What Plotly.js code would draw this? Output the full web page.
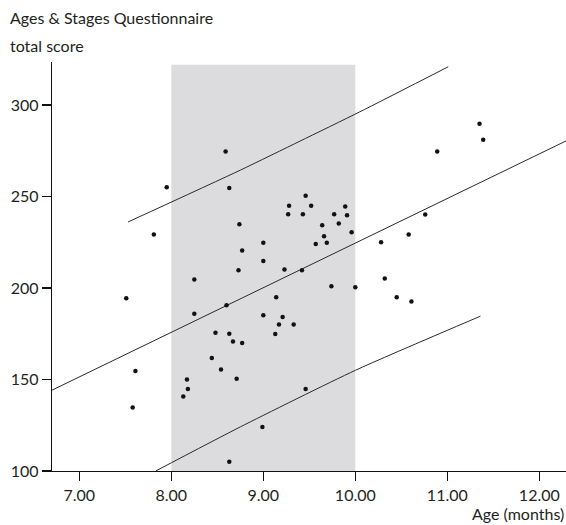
<!DOCTYPE html>
<html>
<head>
<meta charset="utf-8">
<script src="https://cdn.plot.ly/plotly-3.0.1.min.js"></script>
<style>html,body{margin:0;padding:0;background:#fff;}#chart{width:566px;height:525px;}</style>
</head>
<body>
<div id="chart"></div>
<script>
// Scatter data: age (months) and ASQ total score
const ageMonths = [7.51, 7.58, 7.61, 7.81, 7.95, 8.13, 8.17, 8.18, 8.25, 8.25,
  8.44, 8.48, 8.54, 8.59, 8.63, 8.60, 8.63, 8.67, 8.71, 8.74,
  8.73, 8.77, 8.77, 8.63, 9.00, 9.00, 8.99, 9.00, 9.14, 9.17,
  9.13, 9.21, 9.23, 9.28, 9.27, 9.33, 9.43, 9.46, 9.52, 9.42,
  9.57, 9.64, 9.66, 9.69, 9.74, 9.77, 9.82, 9.89, 9.91, 9.96,
  10.00, 9.46, 10.28, 10.32, 10.45, 10.58, 10.61, 10.76, 10.89, 11.35, 11.39];
const asqScore = [194.4, 134.7, 154.7, 229.2, 255.1, 140.7, 150.0, 144.8, 204.6, 185.9,
  161.8, 175.5, 155.5, 274.6, 254.6, 190.6, 175.0, 170.8, 150.4, 234.8,
  209.7, 170.0, 220.5, 105.0, 224.7, 214.8, 124.1, 185.1, 194.9, 180.0,
  174.9, 184.2, 210.1, 244.9, 240.3, 180.1, 240.3, 250.4, 244.9, 209.7,
  224.1, 234.3, 228.3, 224.7, 200.9, 240.3, 235.3, 244.6, 239.8, 230.5,
  200.4, 144.8, 225.0, 205.2, 195.0, 229.2, 192.6, 240.2, 274.6, 289.7, 281.0];

// Regression line and prediction limits
const fitX = [6.70, 12.30];
const fitY = [144.1, 280.6];
const upperX = [7.53, 8.75, 9.40, 10.05, 11.01];
const upperY = [236.1, 264.4, 280.3, 296.3, 320.9];
const lowerX = [7.83, 8.75, 10.00, 11.36];
const lowerY = [100.0, 124.1, 155.0, 184.6];

// Shaded age band
const bandAge = [8, 10];
const bandTop = 322;

// Tick labels
const xTicks = [7, 8, 9, 10, 11, 12];
const xTickText = ['7.00', '8.00', '9.00', '10.00', '11.00', '12.00'];
const yTicks = [100, 150, 200, 250, 300];

const FONT = 'Lato, "Open Sans", sans-serif';
const lineStyle = {color: '#2a2a2a', width: 1};

const traces = [
  {x: fitX, y: fitY, mode: 'lines', line: lineStyle, hoverinfo: 'skip'},
  {x: upperX, y: upperY, mode: 'lines', line: Object.assign({shape: 'spline', smoothing: 0.6}, lineStyle), hoverinfo: 'skip'},
  {x: lowerX, y: lowerY, mode: 'lines', line: Object.assign({shape: 'spline', smoothing: 0.6}, lineStyle), hoverinfo: 'skip'},
  {x: ageMonths, y: asqScore, mode: 'markers', marker: {color: '#111', size: 4.5, symbol: 'circle'}}
];

const layout = {
  width: 566, height: 525,
  margin: {l: 52, r: 0, t: 62, b: 54},
  paper_bgcolor: '#fff', plot_bgcolor: '#fff',
  showlegend: false,
  font: {family: FONT, size: 16, color: '#231f20'},
  xaxis: {
    range: [6.703, 12.29], tickvals: xTicks, ticktext: xTickText,
    showgrid: false, zeroline: false, showline: true, linecolor: '#111', linewidth: 1.3,
    ticks: 'outside', ticklen: 9, tickwidth: 1.3, tickcolor: '#111',
    tickfont: {family: FONT, size: 16, color: '#231f20'}
  },
  yaxis: {
    range: [100, 323.5], tickvals: yTicks,
    showgrid: false, zeroline: false, showline: true, linecolor: '#111', linewidth: 1.3,
    ticks: 'outside', ticklen: 9, tickwidth: 1.3, tickcolor: '#111',
    tickfont: {family: FONT, size: 16, color: '#231f20'}
  },
  shapes: [{
    type: 'rect', xref: 'x', yref: 'y', x0: bandAge[0], x1: bandAge[1], y0: 100, y1: bandTop,
    fillcolor: '#dcdcde', line: {width: 0}, layer: 'below'
  }],
  annotations: [
    {text: 'Ages & Stages Questionnaire', xref: 'paper', yref: 'paper', x: 0, y: 1,
     xanchor: 'left', yanchor: 'middle', xshift: -44, yshift: 45, showarrow: false,
     font: {family: FONT, size: 16, color: '#231f20'}},
    {text: 'total score', xref: 'paper', yref: 'paper', x: 0, y: 1,
     xanchor: 'left', yanchor: 'middle', xshift: -44, yshift: 17, showarrow: false,
     font: {family: FONT, size: 16, color: '#231f20'}},
    {text: 'Age (months)', xref: 'paper', yref: 'paper', x: 1, y: 0,
     xanchor: 'right', yanchor: 'middle', xshift: 0, yshift: -42, showarrow: false,
     font: {family: FONT, size: 16, color: '#231f20'}}
  ]
};

Plotly.newPlot('chart', traces, layout, {displayModeBar: false, staticPlot: true});
</script>
</body>
</html>
